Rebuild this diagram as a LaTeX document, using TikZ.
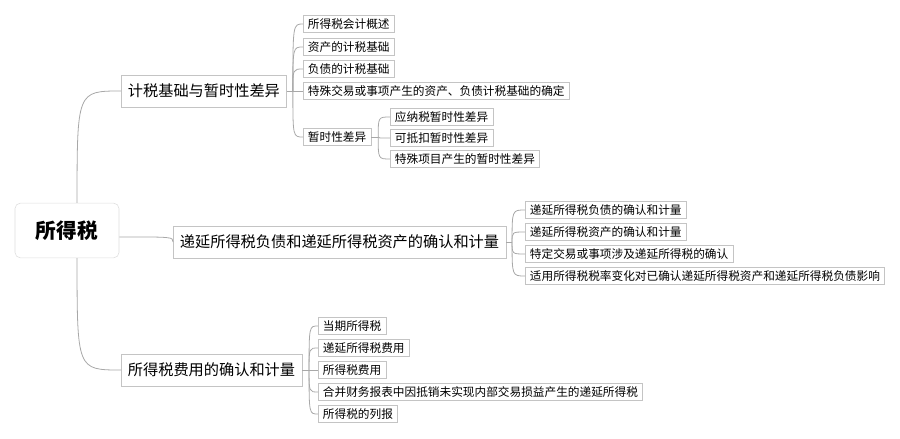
\documentclass[tikz,border=0pt]{standalone}
\usepackage{fontspec}
\setmainfont{Noto Sans CJK SC}
\usepackage{xcolor}
\usepackage{tikz}

\definecolor{boxline}{HTML}{C4C4C4}
\definecolor{linkline}{HTML}{A8A8A8}
\tikzset{
  root/.style={draw=boxline!60, rounded corners=4pt, minimum width=78pt, minimum height=41pt, font=\fontsize{15.5}{18}\selectfont\bfseries},
  topic/.style={draw=boxline, anchor=west, inner xsep=5pt, inner ysep=0pt, minimum height=24pt, font=\fontsize{11.4}{13}\selectfont},
  leaf/.style={draw=boxline, anchor=west, inner xsep=3.5pt, inner ysep=0pt, minimum height=12.5pt, font=\fontsize{8.75}{10}\selectfont},
  link/.style={draw=linkline, line width=0.6pt},
}

\begin{document}
\begin{tikzpicture}[x=0.75pt, y=-0.75pt]
\useasboundingbox (0,0) rectangle (900,439);

\node[root] (root) at (67,230.5) {所得税};

\node[topic] (jishui) at (121,91) {计税基础与暂时性差异};
\node[topic] (diyan) at (173,242) {递延所得税负债和递延所得税资产的确认和计量};
\node[topic] (feiyong) at (121,370) {所得税费用的确认和计量};

\node[leaf] (gaishu) at (303,24) {所得税会计概述};
\node[leaf] (zichan) at (303,47) {资产的计税基础};
\node[leaf] (fuzhai) at (303,69) {负债的计税基础};
\node[leaf] (teshu) at (303,91) {特殊交易或事项产生的资产、负债计税基础的确定};
\node[leaf] (zanshi) at (303,137) {暂时性差异};

\node[leaf] (yingna) at (390,117) {应纳税暂时性差异};
\node[leaf] (kedikou) at (390,138) {可抵扣暂时性差异};
\node[leaf] (xiangmu) at (390,159) {特殊项目产生的暂时性差异};

\node[leaf] (dyfz) at (525,210) {递延所得税负债的确认和计量};
\node[leaf] (dyzc) at (525,232) {递延所得税资产的确认和计量};
\node[leaf] (teding) at (525,254) {特定交易或事项涉及递延所得税的确认};
\node[leaf] (shiyong) at (525,276) {适用所得税税率变化对已确认递延所得税资产和递延所得税负债影响};

\node[leaf] (dangqi) at (318,326) {当期所得税};
\node[leaf] (dyfy) at (318,348) {递延所得税费用};
\node[leaf] (sdsfy) at (318,370) {所得税费用};
\node[leaf] (hebing) at (318,392) {合并财务报表中因抵销未实现内部交易损益产生的递延所得税};
\node[leaf] (liebao) at (318,414) {所得税的列报};

% root to main topics
\draw[link] (root.70) .. controls (root.70 |- jishui.west) .. (jishui.west);
\draw[link] (root.-7) .. controls (root.-7 -| diyan.west) .. (diyan.west);
\draw[link] (root.-70) .. controls (root.-70 |- feiyong.west) .. (feiyong.west);

% junctions
\path (jishui.east) ++(6,0) coordinate (j1);
\path (zanshi.east) ++(7,0) coordinate (j2);
\path (diyan.east) ++(6,0) coordinate (j3);
\path (feiyong.east) ++(7,0) coordinate (j4);

\draw[link] (jishui.east) -- (j1);
\draw[link] (j1) .. controls (j1 |- gaishu.west) .. (gaishu.west);
\draw[link] (j1) .. controls (j1 |- zichan.west) .. (zichan.west);
\draw[link] (j1) .. controls (j1 |- fuzhai.west) .. (fuzhai.west);
\draw[link] (j1) -- (teshu.west);
\draw[link] (j1) .. controls (j1 |- zanshi.west) .. (zanshi.west);

\draw[link] (zanshi.east) -- (j2);
\draw[link] (j2) .. controls (j2 |- yingna.west) .. (yingna.west);
\draw[link] (j2) .. controls (j2 |- kedikou.west) .. (kedikou.west);
\draw[link] (j2) .. controls (j2 |- xiangmu.west) .. (xiangmu.west);

\draw[link] (diyan.east) -- (j3);
\draw[link] (j3) .. controls (j3 |- dyfz.west) .. (dyfz.west);
\draw[link] (j3) .. controls (j3 |- dyzc.west) .. (dyzc.west);
\draw[link] (j3) .. controls (j3 |- teding.west) .. (teding.west);
\draw[link] (j3) .. controls (j3 |- shiyong.west) .. (shiyong.west);

\draw[link] (feiyong.east) -- (j4);
\draw[link] (j4) .. controls (j4 |- dangqi.west) .. (dangqi.west);
\draw[link] (j4) .. controls (j4 |- dyfy.west) .. (dyfy.west);
\draw[link] (j4) -- (sdsfy.west);
\draw[link] (j4) .. controls (j4 |- hebing.west) .. (hebing.west);
\draw[link] (j4) .. controls (j4 |- liebao.west) .. (liebao.west);
\end{tikzpicture}
\end{document}
